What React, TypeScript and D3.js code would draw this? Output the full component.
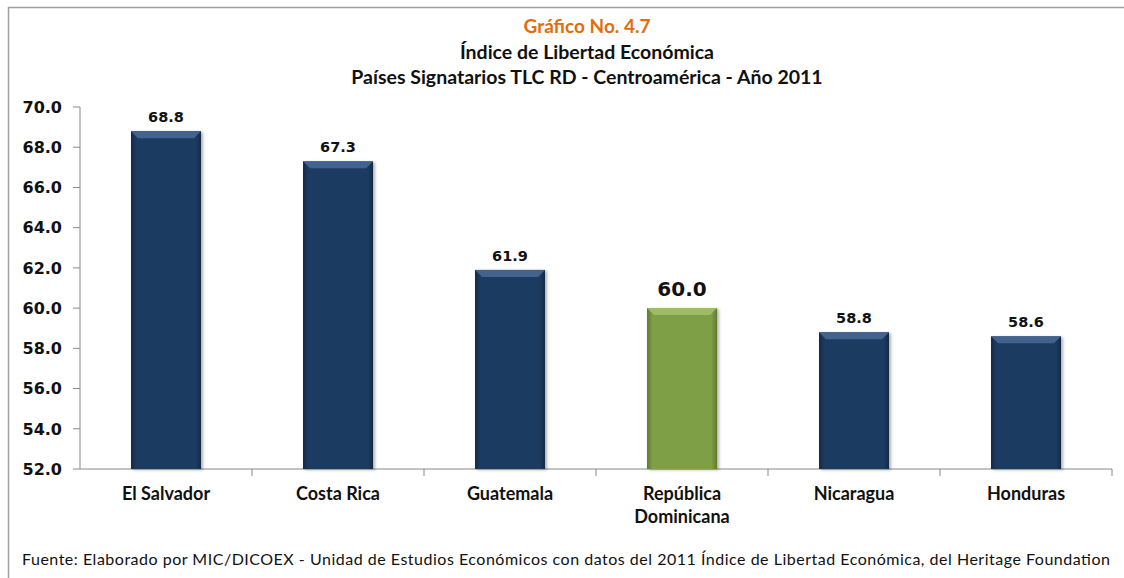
import React from 'react';
import * as d3 from 'd3';

const categories = ['El Salvador', 'Costa Rica', 'Guatemala', 'República Dominicana', 'Nicaragua', 'Honduras'];
const values = [68.8, 67.3, 61.9, 60.0, 58.8, 58.6];
const highlight = 'República Dominicana';
const yTicks = [52, 54, 56, 58, 60, 62, 64, 66, 68, 70];

const W = 1124;
const H = 578;
const margin = { top: 107, right: 12, bottom: 109, left: 80 };

const App: React.FC = () => {
  const innerW = W - margin.left - margin.right;
  const innerH = H - margin.top - margin.bottom;

  const x = d3.scaleBand<string>().domain(categories).range([0, innerW]).padding(0);
  const y = d3.scaleLinear().domain([52, 70]).range([innerH, 0]);
  const barW = x.bandwidth() * 0.407;

  const labelFont = 'Lato, "Open Sans", sans-serif';

  return (
    <svg width={W} height={H} style={{ position: 'absolute', left: 0, top: 0, background: '#fff' }}>
      <defs>
        <linearGradient id="blueH" x1="0" x2="1" y1="0" y2="0">
          <stop offset="0" stopColor="#142a48" />
          <stop offset="0.08" stopColor="#1e3a61" />
          <stop offset="0.92" stopColor="#1e3a61" />
          <stop offset="1" stopColor="#142a48" />
        </linearGradient>
        <linearGradient id="greenH" x1="0" x2="1" y1="0" y2="0">
          <stop offset="0" stopColor="#5f7a2e" />
          <stop offset="0.08" stopColor="#7f9f46" />
          <stop offset="0.92" stopColor="#7f9f46" />
          <stop offset="1" stopColor="#5f7a2e" />
        </linearGradient>
        <filter id="shadow" x="-20%" y="-5%" width="140%" height="110%">
          <feDropShadow dx="2" dy="1" stdDeviation="1.5" floodColor="#000" floodOpacity="0.3" />
        </filter>
      </defs>

      {/* frame */}
      <line x1={8.5} x2={8.5} y1={7} y2={H} stroke="#a0a0a0" strokeWidth={1.5} />
      <line x1={8} x2={W} y1={7.5} y2={7.5} stroke="#a0a0a0" strokeWidth={1.5} />

      {/* titles */}
      <text x={587} y={33} textAnchor="middle" fontFamily={labelFont} fontWeight="bold" fontSize={19} fill="#e46c0a">
        Gráfico No. 4.7
      </text>
      <text x={587} y={59} textAnchor="middle" fontFamily={labelFont} fontWeight="bold" fontSize={19.5} fill="#111">
        Índice de Libertad Económica
      </text>
      <text x={587} y={84} textAnchor="middle" fontFamily={labelFont} fontWeight="bold" fontSize={19.5} fill="#111">
        {'Países Signatarios TLC RD - Centroamérica  - Año 2011'}
      </text>

      <g transform={`translate(${margin.left},${margin.top})`}>
        {/* y axis */}
        <line x1={0} x2={0} y1={0} y2={innerH} stroke="#888" />
        {yTicks.map(t => (
          <g key={t} transform={`translate(0,${y(t)})`}>
            <line x1={-7} x2={0} stroke="#888" />
            <text x={-18} dy="0.36em" textAnchor="end" fontFamily="'DejaVu Sans', Verdana, sans-serif" fontWeight="bold" fontSize={16} fill="#111">
              {t.toFixed(1)}
            </text>
          </g>
        ))}

        {/* x axis */}
        <line x1={0} x2={innerW} y1={innerH} y2={innerH} stroke="#888" />
        {categories.map(c => (
          <line key={c} x1={(x(c) as number) + x.bandwidth()} x2={(x(c) as number) + x.bandwidth()} y1={innerH} y2={innerH + 7} stroke="#888" />
        ))}

        {/* bars */}
        {categories.map((c, i) => {
          const v = values[i];
          const bx = (x(c) as number) + (x.bandwidth() - barW) / 2;
          const by = y(v);
          const bh = innerH - by;
          const isHi = c === highlight;
          return (
            <g key={c}>
              <rect x={bx} y={by} width={barW} height={bh} fill={isHi ? 'url(#greenH)' : 'url(#blueH)'} filter="url(#shadow)" />
              <path
                d={`M${bx},${by} L${bx + barW},${by} L${bx + barW - 7},${by + 7} L${bx + 7},${by + 7} Z`}
                fill={isHi ? '#a3bf6e' : '#4a6a96'}
                opacity={0.85}
              />
              <text
                x={bx + barW / 2}
                y={by - (isHi ? 12 : 9)}
                textAnchor="middle"
                fontFamily="'DejaVu Sans', Verdana, sans-serif"
                fontWeight="bold"
                fontSize={isHi ? 20 : 14.5}
                fill="#111"
              >
                {v.toFixed(1)}
              </text>
            </g>
          );
        })}

        {/* category labels */}
        {categories.map(c => {
          const cx = (x(c) as number) + x.bandwidth() / 2;
          const parts = c === highlight ? ['República', 'Dominicana'] : [c];
          return (
            <text key={c} x={cx} y={innerH + 31} textAnchor="middle" fontFamily={labelFont} fontWeight="bold" fontSize={18} fill="#111">
              {parts.map((p, j) => (
                <tspan key={p} x={cx} dy={j === 0 ? 0 : 23}>
                  {p}
                </tspan>
              ))}
            </text>
          );
        })}
      </g>

      {/* source */}
      <text x={22} y={565} fontFamily={labelFont} fontSize={16} fill="#111" textLength={1088} lengthAdjust="spacing">
        {'Fuente: Elaborado por  MIC/DICOEX  - Unidad de Estudios  Económicos con datos del 2011 Índice de Libertad Económica, del Heritage Foundation'}
      </text>
    </svg>
  );
};

export default App;
